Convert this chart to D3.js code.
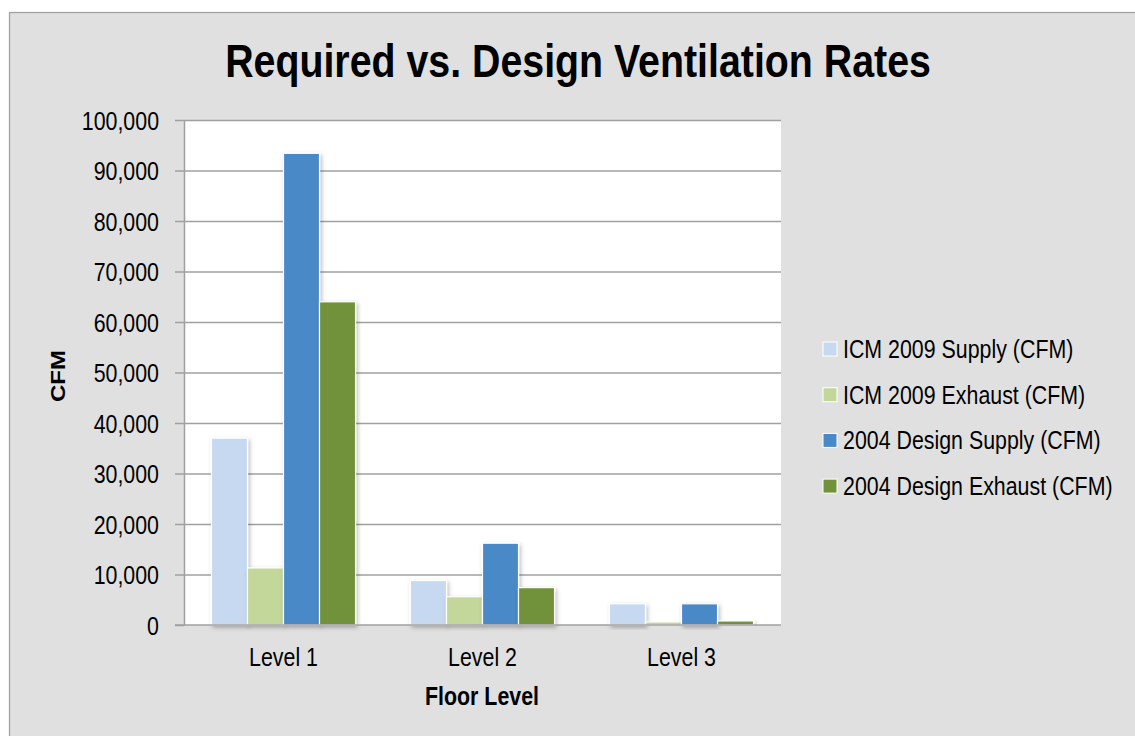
<!DOCTYPE html>
<html>
<head>
<meta charset="utf-8">
<script src="https://cdn.jsdelivr.net/npm/d3@7"></script>
<style>
  html, body { margin: 0; padding: 0; background: #ffffff; }
  svg { display: block; font-family: "Liberation Sans", Arial, sans-serif; }
</style>
</head>
<body>
<svg id="chart" width="1135" height="736"></svg>
<script>
// Floor levels and ventilation rates (CFM) per series
const levels = ["Level 1", "Level 2", "Level 3"];
const seriesNames = [
  "ICM 2009 Supply (CFM)",
  "ICM 2009 Exhaust (CFM)",
  "2004 Design Supply (CFM)",
  "2004 Design Exhaust (CFM)"
];
const icmSupply = [37000, 8800, 4200];
const icmExhaust = [11300, 5600, 600];
const designSupply = [93400, 16200, 4200];
const designExhaust = [64000, 7400, 800];
const yTicks = [0, 10000, 20000, 30000, 40000, 50000, 60000, 70000, 80000, 90000, 100000];
const seriesColors = ["#c6d9f0", "#c4d79b", "#4a89c8", "#71913a"];

const seriesValues = [icmSupply, icmExhaust, designSupply, designExhaust];
const rows = levels.map((lvl, i) => ({
  level: lvl,
  values: seriesNames.map((s, j) => ({ series: s, value: seriesValues[j][i] }))
}));

const svg = d3.select("#chart");
const SX = 0.855; // horizontal squeeze of the lettering

// chart frame
svg.append("rect")
  .attr("x", 9.5).attr("y", 12.5)
  .attr("width", 1200).attr("height", 800)
  .attr("fill", "#e0e0e0")
  .attr("stroke", "#a3a3a3")
  .attr("stroke-width", 1.3);

const defs = svg.append("defs");
const shadow = defs.append("filter").attr("id", "barShadow")
  .attr("x", "-20%").attr("y", "-10%").attr("width", "150%").attr("height", "130%");
shadow.append("feDropShadow")
  .attr("dx", 1.5).attr("dy", 2)
  .attr("stdDeviation", 2)
  .attr("flood-color", "#000000")
  .attr("flood-opacity", 0.28);

const plot = { left: 184, top: 120, right: 781, bottom: 625 };

// plot background
svg.append("rect")
  .attr("x", plot.left).attr("y", plot.top)
  .attr("width", plot.right - plot.left).attr("height", plot.bottom - plot.top)
  .attr("fill", "#ffffff");

const y = d3.scaleLinear().domain([0, 100000]).range([plot.bottom, plot.top]);
const x0 = d3.scaleBand().domain(levels).range([plot.left, plot.right])
  .paddingInner(0.276).paddingOuter(0.138);
const x1 = d3.scaleBand().domain(seriesNames).range([0, x0.bandwidth()]);
const color = d3.scaleOrdinal().domain(seriesNames).range(seriesColors);

// horizontal gridlines
const grid = svg.append("g")
  .attr("transform", `translate(${plot.left},0)`)
  .call(d3.axisLeft(y).tickValues(yTicks.filter(v => v > 0))
    .tickSize(-(plot.right - plot.left)).tickFormat(""));
grid.select(".domain").remove();
grid.selectAll(".tick line").attr("stroke", "#a0a0a0").attr("stroke-width", 1.5);

// bars
const groups = svg.append("g").selectAll("g")
  .data(rows).join("g")
  .attr("transform", d => `translate(${x0(d.level)},0)`);

groups.selectAll("rect")
  .data(d => d.values).join("rect")
  .attr("x", d => x1(d.series))
  .attr("y", d => y(d.value))
  .attr("width", x1.bandwidth())
  .attr("height", d => y(0) - y(d.value))
  .attr("fill", d => color(d.series))
  .attr("stroke", "#ffffff")
  .attr("stroke-width", 1.2)
  .attr("filter", "url(#barShadow)");

// y axis with tick labels
const yAxis = svg.append("g")
  .attr("transform", `translate(${plot.left},0)`)
  .call(d3.axisLeft(y).tickValues(yTicks).tickSize(9).tickSizeOuter(0)
    .tickFormat(d3.format(",")));
yAxis.select(".domain").attr("stroke", "#a0a0a0").attr("stroke-width", 1.5);
yAxis.selectAll(".tick line").attr("stroke", "#a0a0a0").attr("stroke-width", 1.5);
yAxis.selectAll(".tick text")
  .attr("x", -25 / SX)
  .attr("dy", "0.36em")
  .attr("transform", `scale(${SX},1)`)
  .attr("font-size", 25)
  .attr("font-family", "Liberation Sans, Arial, sans-serif")
  .attr("fill", "#000000");

// x axis with category labels
const xAxis = svg.append("g")
  .attr("transform", `translate(0,${plot.bottom})`)
  .call(d3.axisBottom(x0).tickSize(0).tickSizeOuter(0));
xAxis.select(".domain").attr("stroke", "#a0a0a0").attr("stroke-width", 1.5)
  .attr("d", `M${plot.left - 9},0H${plot.right}`);
xAxis.selectAll(".tick text")
  .attr("y", 41)
  .attr("dy", 0)
  .attr("transform", `scale(${SX},1)`)
  .attr("font-size", 25)
  .attr("font-family", "Liberation Sans, Arial, sans-serif")
  .attr("fill", "#000000");
xAxis.selectAll(".tick").each(function() {
  const g = d3.select(this);
  const t = g.attr("transform");
  const tx = +t.match(/translate\(([-\d.]+)/)[1];
  g.attr("transform", `translate(${tx},0)`);
});

// helper for squeezed text
function label(txt, x, yPos, size, weight, anchor) {
  return svg.append("text")
    .attr("transform", `translate(${x},${yPos}) scale(${SX},1)`)
    .attr("text-anchor", anchor)
    .attr("font-size", size)
    .attr("font-weight", weight)
    .attr("fill", "#000000")
    .text(txt);
}

// title
label("Required vs. Design Ventilation Rates", 578, 77, 46, "bold", "middle");

// axis titles
label("Floor Level", 482, 705, 25, "bold", "middle");
svg.append("text")
  .attr("transform", `translate(65,376) rotate(-90) scale(1,${SX})`)
  .attr("text-anchor", "middle")
  .attr("font-size", 24)
  .attr("font-weight", "bold")
  .attr("fill", "#000000")
  .text("CFM");

// legend
const legendTop = 349;
const legendStep = 45.7;
const legend = svg.append("g");
seriesNames.forEach((s, i) => {
  const cy = legendTop + i * legendStep;
  legend.append("rect")
    .attr("x", 823).attr("y", cy - 7)
    .attr("width", 14).attr("height", 14)
    .attr("fill", color(s))
    .attr("stroke", "#ffffff").attr("stroke-width", 1);
  legend.append("text")
    .attr("transform", `translate(843,${cy + 9}) scale(${SX},1)`)
    .attr("font-size", 25)
    .attr("fill", "#000000")
    .text(s);
});
</script>
</body>
</html>
